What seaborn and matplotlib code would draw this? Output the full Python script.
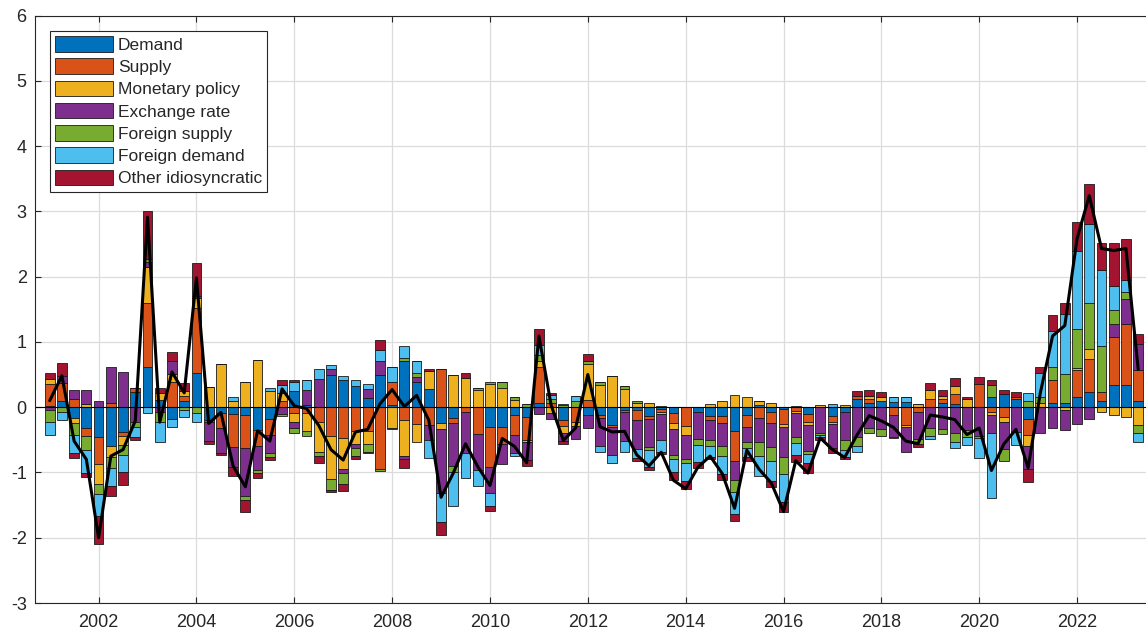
import numpy as np
import matplotlib
matplotlib.use("Agg")
import matplotlib.pyplot as plt
import seaborn as sns

# quarterly positions, 2001Q1 .. 2023Q2
quarters = np.arange(2001, 2023.5, 0.25)

demand = [0.02, 0.09, -0.17, -0.32, -0.45, -0.60, -0.38, 0.24, 0.62, 0.11,
          -0.18, 0.10, 0.52, -0.19, -0.09, -0.10, -0.12, -0.35, -0.18, 0.00,
          0.25, 0.04, 0.00, 0.49, 0.42, 0.33, 0.14, 0.49, 0.03, 0.71,
          0.39, 0.28, -0.24, -0.17, 0.00, 0.00, -0.31, -0.31, -0.12, -0.15,
          0.06, 0.00, -0.19, 0.00, -0.12, -0.12, -0.27, -0.05, -0.05, -0.14,
          -0.03, -0.09, 0.01, -0.08, -0.13, -0.13, -0.36, -0.12, 0.04, -0.08,
          -0.03, 0.02, -0.10, 0.00, -0.13, -0.08, 0.13, 0.07, 0.10, 0.08,
          0.08, 0.00, 0.00, 0.06, 0.05, 0.00, 0.00, 0.15, 0.20, 0.12,
          -0.18, 0.00, 0.07, 0.06, 0.16, 0.23, 0.09, 0.34, 0.34, 0.09]
supply = [0.33, 0.28, 0.12, -0.12, -0.42, 0.06, -0.06, 0.06, 0.97, 0.00,
          0.39, 0.07, 1.00, -0.04, -0.23, -0.51, -0.50, -0.24, -0.24, 0.10,
          -0.09, -0.09, -0.23, -0.44, -0.47, -0.36, -0.37, -0.95, 0.35, -0.20,
          -0.26, -0.27, 0.58, -0.07, -0.07, -0.41, -0.60, -0.26, -0.31, -0.35,
          0.56, 0.06, -0.10, -0.23, 0.11, -0.05, -0.04, -0.03, -0.14, -0.04,
          -0.04, -0.15, -0.29, 0.00, -0.06, -0.12, -0.47, -0.18, -0.17, -0.17,
          -0.23, -0.06, -0.12, 0.00, -0.09, 0.00, 0.04, 0.05, 0.00, -0.12,
          -0.27, -0.07, 0.12, 0.06, 0.15, 0.00, 0.36, -0.08, -0.15, 0.03,
          -0.24, 0.00, 0.34, 0.00, 0.41, 0.51, 0.14, 0.73, 0.94, 0.48]
monetary = [0.08, 0.00, -0.08, 0.05, -0.31, -0.16, -0.14, 0.00, 0.56, 0.11,
            0.12, 0.08, 0.15, 0.31, 0.66, 0.10, 0.38, 0.72, 0.25, 0.12,
            -0.14, -0.28, -0.46, -0.66, -0.47, -0.20, -0.20, 0.00, -0.32, -0.55,
            -0.27, 0.27, -0.10, 0.50, 0.44, 0.26, 0.36, 0.29, 0.11, -0.04,
            0.09, -0.09, -0.10, -0.06, 0.55, 0.34, 0.47, 0.28, 0.06, 0.06,
            -0.03, -0.09, -0.14, 0.01, 0.05, 0.10, 0.19, 0.16, 0.06, 0.07,
            -0.04, -0.03, -0.05, 0.03, -0.04, 0.03, 0.00, 0.05, 0.05, 0.00,
            -0.04, 0.05, 0.15, 0.05, 0.12, 0.12, 0.00, -0.04, -0.07, 0.00,
            -0.18, 0.06, 0.00, -0.04, 0.03, 0.15, -0.08, -0.12, -0.15, -0.27]
exchange = [-0.05, 0.11, 0.14, 0.22, 0.09, 0.55, 0.54, -0.22, 0.08, -0.08,
            0.19, 0.00, 0.04, -0.29, -0.38, -0.30, -0.74, -0.37, -0.28, -0.10,
            -0.09, 0.23, 0.43, 0.10, -0.07, -0.07, 0.14, 0.22, 0.00, -0.05,
            0.07, -0.23, -0.98, -0.66, -0.63, -0.56, -0.41, -0.30, -0.27, -0.27,
            -0.10, -0.09, -0.13, -0.20, -0.20, -0.42, -0.42, -0.44, -0.45, -0.43,
            -0.41, -0.41, -0.37, -0.41, -0.32, -0.35, -0.29, -0.23, -0.37, -0.36,
            -0.47, -0.37, -0.40, -0.40, -0.37, -0.43, -0.45, -0.32, -0.34, -0.33,
            -0.37, -0.41, -0.32, -0.34, -0.39, -0.35, -0.44, -0.27, -0.42, -0.38,
            -0.35, -0.40, -0.32, -0.31, -0.26, -0.18, 0.00, 0.21, 0.38, 0.40]
foreign_supply = [-0.18, -0.07, -0.18, -0.21, -0.15, -0.17, -0.15, -0.08, 0.04, -0.14,
                  0.00, -0.04, -0.09, 0.00, 0.00, 0.00, -0.06, -0.05, -0.06, -0.04,
                  -0.07, -0.07, -0.06, -0.17, -0.17, -0.12, -0.12, -0.03, -0.02, 0.04,
                  0.07, 0.00, 0.00, -0.09, 0.00, 0.03, 0.03, 0.10, 0.04, 0.05,
                  0.09, 0.06, 0.03, 0.10, 0.04, 0.04, 0.00, 0.04, 0.03, -0.05,
                  0.02, -0.06, -0.05, -0.09, -0.08, -0.15, -0.18, -0.09, -0.21, -0.21,
                  -0.26, -0.09, -0.05, -0.03, 0.00, -0.14, -0.14, -0.07, -0.10, -0.02,
                  0.00, -0.09, -0.12, -0.07, -0.14, -0.11, -0.03, 0.19, -0.19, 0.00,
                  0.10, 0.10, 0.20, 0.45, 0.60, 0.70, 0.71, 0.21, 0.11, -0.12]
foreign_demand = [-0.20, -0.13, -0.27, -0.36, -0.34, -0.28, -0.27, -0.16, -0.09, -0.31,
                  -0.13, -0.11, -0.14, 0.00, 0.00, 0.05, 0.00, 0.00, 0.04, 0.12,
                  0.13, 0.15, 0.15, 0.06, 0.05, 0.08, 0.08, 0.17, 0.23, 0.19,
                  0.18, -0.28, -0.44, -0.52, -0.38, -0.23, -0.19, 0.00, -0.05, 0.00,
                  0.15, 0.06, 0.02, 0.07, 0.00, -0.09, -0.12, -0.17, -0.14, -0.25,
                  -0.18, -0.20, -0.28, -0.26, -0.17, -0.28, -0.34, -0.15, -0.30, -0.31,
                  -0.42, -0.19, -0.13, -0.03, 0.05, -0.11, -0.09, 0.00, 0.00, 0.08,
                  0.08, 0.00, -0.05, 0.00, -0.10, -0.12, -0.31, -1.00, 0.00, -0.20,
                  0.12, 0.36, 0.56, 0.92, 1.19, 1.21, 1.16, 0.36, 0.18, -0.15]
other = [0.10, 0.20, -0.08, -0.06, -0.42, -0.15, -0.19, -0.05, 0.73, 0.08,
         0.15, 0.12, 0.50, -0.04, -0.04, -0.14, -0.18, -0.07, -0.05, 0.08,
         0.03, 0.00, -0.11, -0.03, -0.10, -0.04, -0.01, 0.15, 0.00, -0.13,
         0.00, 0.03, -0.20, 0.00, 0.08, 0.00, -0.08, 0.00, 0.00, -0.09,
         0.24, 0.03, -0.04, 0.00, 0.12, 0.00, 0.00, 0.00, -0.04, -0.05,
         -0.02, -0.12, -0.13, -0.09, -0.04, -0.09, -0.10, -0.05, 0.00, -0.10,
         -0.15, -0.10, -0.16, -0.04, -0.07, -0.04, 0.08, 0.09, 0.08, 0.00,
         0.00, -0.04, 0.10, 0.09, 0.12, 0.04, 0.10, 0.08, 0.06, 0.09,
         -0.20, 0.10, 0.24, 0.17, 0.45, 0.62, 0.41, 0.67, 0.63, 0.15]

labels = ["Demand", "Supply", "Monetary policy", "Exchange rate",
          "Foreign supply", "Foreign demand", "Other idiosyncratic"]
colors = ["#0072BD", "#D95319", "#EDB120", "#7E2F8E",
          "#77AC30", "#4DBEEE", "#A2142F"]
series = [demand, supply, monetary, exchange, foreign_supply, foreign_demand, other]

sns.set_style("whitegrid")
plt.rcParams['font.family'] = ['Liberation Sans', 'DejaVu Sans']
plt.rcParams['axes.unicode_minus'] = False

fig = plt.figure(figsize=(11.46, 6.35), dpi=100)
ax = fig.add_axes([35 / 1146, 32 / 635, 1112 / 1146, 587.5 / 635])

pos_bottom = np.zeros(len(quarters))
neg_bottom = np.zeros(len(quarters))
for name, vals, col in zip(labels, series, colors):
    v = np.array(vals)
    base = np.where(v >= 0, pos_bottom, neg_bottom)
    ax.bar(quarters, v, bottom=base, width=0.2, color=col, edgecolor='#1a1a1a',
           linewidth=0.6, label=name, zorder=2)
    pos_bottom += np.clip(v, 0, None)
    neg_bottom += np.clip(v, None, 0)

total = pos_bottom + neg_bottom
sns.lineplot(x=quarters, y=total, color='black', linewidth=2.2, ax=ax,
             legend=False, zorder=3)
ax.axhline(0, color='black', linewidth=0.8, zorder=2.5)

ax.set_xlim(2000.70, 2023.43)
ax.set_ylim(-3, 6)
ax.set_xticks(np.arange(2002, 2023, 2))
ax.set_yticks(np.arange(-3, 7, 1))
ax.grid(True, color='#dcdcdc', linewidth=0.9)
ax.set_axisbelow(True)
for side in ['left', 'bottom', 'top']:
    ax.spines[side].set_visible(True)
    ax.spines[side].set_color('#262626')
    ax.spines[side].set_linewidth(0.8)
ax.spines['right'].set_visible(False)
ax.tick_params(axis='both', direction='in', length=4, width=0.8, color='#262626',
               labelsize=13, labelcolor='#262626', top=True, left=True, bottom=True)
ax.tick_params(axis='x', pad=8)
ax.tick_params(axis='y', pad=6)

leg = ax.legend(loc='upper left', bbox_to_anchor=(0.0135, 0.974), frameon=True,
                fancybox=False, framealpha=1, edgecolor='#262626', fontsize=12.5,
                handlelength=3.3, handleheight=1.0, handletextpad=0.3,
                labelspacing=0.32, borderpad=0.3, borderaxespad=0)
leg.get_frame().set_linewidth(0.8)

fig.savefig('out.png', dpi=100)
